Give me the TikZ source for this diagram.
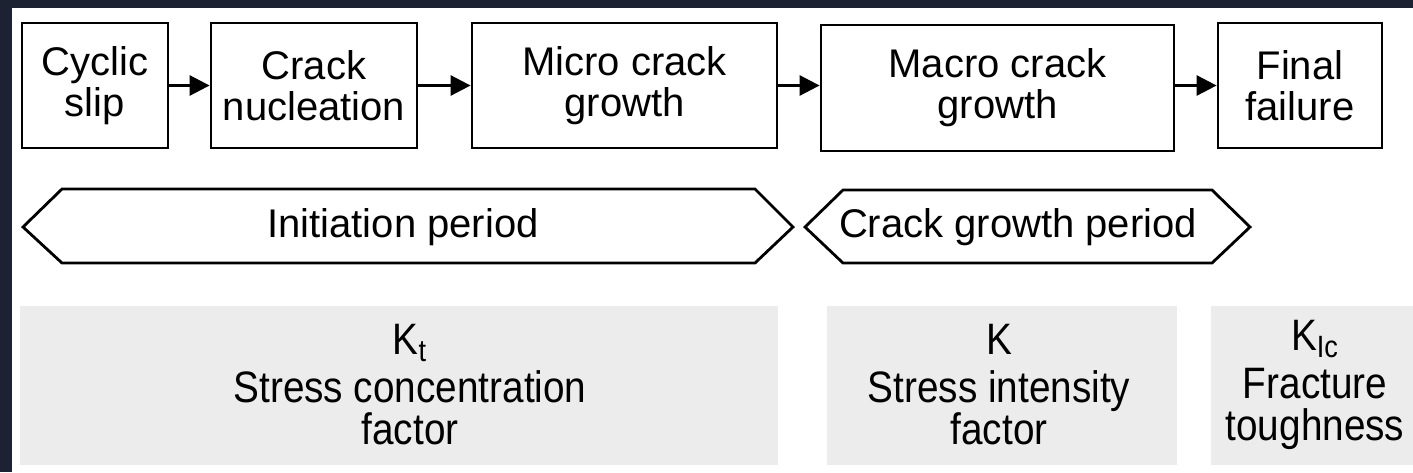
\documentclass[tikz,border=0pt]{standalone}
\usepackage{fontspec}
\setmainfont{Liberation Sans}
\newfontfamily\narrowfont{Liberation Sans}[FakeStretch=0.88]
\usetikzlibrary{arrows.meta}
\definecolor{screen}{HTML}{1C2232}
\definecolor{panel}{HTML}{ECECEC}
\begin{document}
\begin{tikzpicture}[x=0.5pt,y=-0.5pt,line width=1.4pt,
  every node/.style={font=\fontsize{20}{20.5}\selectfont,inner sep=0pt,align=center},
  stage/.style={draw,minimum height=62.5pt},
  flow/.style={-{Triangle[length=10pt,width=10pt]}},
  period/.style={line join=miter},
  factor/.style={font=\narrowfont\fontsize{22}{21}\selectfont}]
\useasboundingbox (0,0) rectangle (1413,472);
\fill[screen] (0,0) rectangle (1413,472);
\fill[white] (12,8) rectangle (1413,472);
% stages
\node[stage,minimum width=73pt] (slip) at (95,85.5) {Cyclic\\slip};
\node[stage,minimum width=103pt] (nucl) at (314,85.5) {Crack\\nucleation};
\node[stage,minimum width=152.5pt] (micro) at (624.5,85.5) {Micro crack\\growth};
\node[stage,minimum width=176.5pt,minimum height=63pt] (macro) at (997.5,88) {Macro crack\\growth};
\node[stage,minimum width=82pt] (final) at (1300,85.5) {Final\\failure};
\draw[flow] (slip.east) -- (nucl.west);
\draw[flow] (nucl.east) -- (micro.west);
\draw[flow] (micro.east) -- (micro.east -| macro.west);
\draw[flow] (final.west -| macro.east) -- (final.west);
% periods
\draw[period] (23,227) -- (62,189) -- (755,189) -- (793,227) -- (755,263) -- (62,263) -- cycle;
\draw[period] (805,227) -- (843,190) -- (1212,190) -- (1250,227) -- (1212,263) -- (843,263) -- cycle;
\node (init) at (403,227) {Initiation period};
\node (growth) at (1018,227) {Crack growth period};
% factors
\fill[panel] (20,306) rectangle (778,465);
\fill[panel] (827,306) rectangle (1177,465);
\fill[panel] (1211,306) rectangle (1413,465);
\node[factor] (kt) at (410,385) {K\textsubscript{t}\\[3pt]Stress concentration\\factor};
\node[factor] (k) at (999,385) {K\\[3pt]Stress intensity\\factor};
\node[factor] (kic) at (1315,385) {K\textsubscript{Ic}\\[3pt]Fracture\\toughness};
\end{tikzpicture}
\end{document}
